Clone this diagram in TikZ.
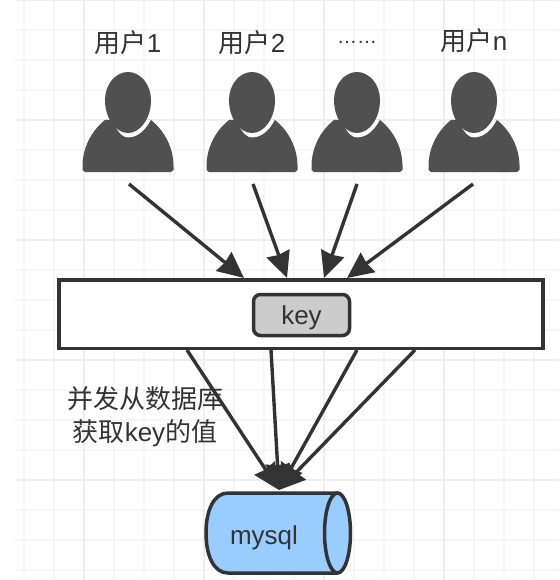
\documentclass[tikz,border=0pt]{standalone}
\usepackage{fontspec}
\setmainfont{Liberation Sans}
\newfontfamily\cjk{Noto Sans CJK SC}
\usetikzlibrary{arrows.meta}
\definecolor{inkgray}{HTML}{333333}
\definecolor{usergray}{HTML}{505050}
\definecolor{keygray}{HTML}{CCCCCC}
\definecolor{dbblue}{HTML}{99CCFF}
\definecolor{gridminor}{HTML}{F6F6F6}
\definecolor{gridmajor}{HTML}{EEEEEE}
\newcommand{\headpath}[1]{(0,-#1) .. controls (-{12.6+0.55*#1},-#1) and (-{23+#1},12.6) .. (-{23+#1},28)
    .. controls (-{23+#1},46) and (-{12.6+0.55*#1},{61+#1}) .. (0,{61+#1})
    .. controls ({12.6+0.55*#1},{61+#1}) and ({23+#1},46) .. ({23+#1},28)
    .. controls ({23+#1},12.6) and ({12.6+0.55*#1},-#1) .. (0,-#1) -- cycle}
\tikzset{
    label/.style={text=inkgray,font=\fontsize{26}{33}\selectfont,align=center,inner sep=0pt},
    flow/.style={draw=inkgray,line width=3.4pt,-{Stealth[length=26pt,width=24pt,inset=1.5pt]}},
    user/.pic={
        \begin{scope}
        \path [clip] (-45.5,96) .. controls (-46,78) and (-38,60) .. (-23,48) -- (23,48)
            .. controls (38,60) and (46,78) .. (45.5,96) -- (45.5,98) -- (43,100) -- (-43,100) -- (-45.5,98) -- cycle;
        \fill [usergray] (-50,40) rectangle (50,105);
        \fill [white] \headpath{4.5};
        \end{scope}
        \fill [usergray] \headpath{0};
    }
}
\begin{document}
\begin{tikzpicture}[x=1pt,y=-1pt]
    \useasboundingbox (0,0) rectangle (559,580);
    \fill [white] (0,0) rectangle (559,580);

    % grid
    \foreach \x in {24,54,...,559} \draw [gridminor,line width=1.5pt] (\x,0) -- (\x,580);
    \foreach \y in {30,60,...,580} \draw [gridminor,line width=1.5pt] (15,\y) -- (559,\y);
    \foreach \x in {84,204,324,444} \draw [gridmajor,line width=1.5pt] (\x,0) -- (\x,580);
    \foreach \y in {0,120,240,360,480} \draw [gridmajor,line width=1.5pt] (15,\y) -- (559,\y);

    % users
    \pic at (128,72) {user};
    \pic at (252,72) {user};
    \pic at (357,72) {user};
    \pic at (474,72) {user};

    \node [label] (name1) at (128,43) {{\cjk 用户}1};
    \node [label] (name2) at (252,43) {{\cjk 用户}2};
    \node [label] (name3) at (357,42.5) {\fontsize{20}{20}\selectfont ……};
    \node [label] (name4) at (474,41) {{\cjk 用户}n};

    % cache
    \node [draw=inkgray,fill=white,line width=3.5pt,minimum width=484pt,minimum height=68.5pt,inner sep=0pt] (cache) at (301,314) {};
    \node [label,draw=inkgray,fill=keygray,line width=3.5pt,rounded corners=7pt,minimum width=96pt,minimum height=41pt,text height=23pt,text depth=5pt] (key) at (301.5,315) {key};

    % database
    \path [draw=inkgray,fill=dbblue,line width=3.5pt] (338,493) -- (228,493) .. controls (214,493) and (206,510) .. (206,533)
        .. controls (206,556) and (214,573) .. (228,573) -- (338,573);
    \draw [inkgray,fill=dbblue,line width=3.5pt] (337.5,533) ellipse (13 and 40);
    \node [label] (db) at (264,538) {mysql};
    \coordinate (dbtop) at (279,490);

    % arrows in
    \coordinate (from1) at (129,184);
    \coordinate (from2) at (253,184);
    \coordinate (from3) at (357,184);
    \coordinate (from4) at (473,184);
    \coordinate (in1) at (244,278);
    \coordinate (in2) at (287,278);
    \coordinate (in3) at (324,278);
    \coordinate (in4) at (347,278);
    \foreach \i in {1,...,4} \draw [flow] (from\i) -- (in\i);

    % arrows out
    \coordinate (out1) at (187,350);
    \coordinate (out2) at (271,350);
    \coordinate (out3) at (357,350);
    \coordinate (out4) at (415,350);
    \foreach \i in {1,...,4} \draw [flow] (out\i) -- (dbtop);

    \node [label] (note) at (145,417) {{\cjk 并发从数据库}\\{\cjk 获取}key{\cjk 的值}};
\end{tikzpicture}
\end{document}
